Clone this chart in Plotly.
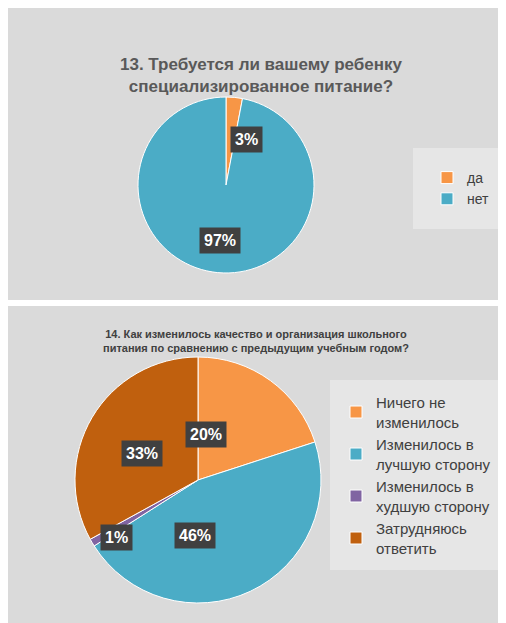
import plotly.graph_objects as go

# data
q13_labels = ['да', 'нет']
q13_values = [3, 97]
q14_labels = ['Ничего не<br>изменилось', 'Изменилось в<br>лучшую сторону',
              'Изменилось в<br>худшую сторону', 'Затрудняюсь<br>ответить']
q14_values = [20, 46, 1, 33]

q13_colors = ['#F79646', '#4BACC6']
q14_colors = ['#F79646', '#4BACC6', '#8064A2', '#C0600E']

W, H = 506, 623

fig = go.Figure()
fig.add_trace(go.Pie(
    labels=q13_labels, values=q13_values, sort=False, direction='clockwise', rotation=0,
    marker=dict(colors=q13_colors, line=dict(color='white', width=1)),
    textinfo='none', hoverinfo='label+percent',
    domain=dict(x=[130 / W, 306 / W], y=[1 - 265 / H, 1 - 89 / H]),
    legend='legend',
))
fig.add_trace(go.Pie(
    labels=q14_labels, values=q14_values, sort=False, direction='clockwise', rotation=0,
    marker=dict(colors=q14_colors, line=dict(color='white', width=1)),
    textinfo='none', hoverinfo='label+percent',
    domain=dict(x=[67 / W, 313 / W], y=[1 - 595 / H, 1 - 349 / H]),
    legend='legend2',
))

def px(x, y):
    return x / W, 1 - y / H

shapes = [
    dict(type='rect', xref='paper', yref='paper', x0=0, x1=1, y0=1 - 292 / H, y1=1,
         fillcolor='#DADADA', line=dict(width=0), layer='below'),
    dict(type='rect', xref='paper', yref='paper', x0=0, x1=1, y0=0, y1=1 - 298 / H,
         fillcolor='#DADADA', line=dict(width=0), layer='below'),
]

annotations = []
ax, ay = px(253, 45)
annotations.append(dict(text='<b>13. Требуется ли вашему ребенку<br>специализированное питание?</b>',
                        x=ax, y=ay, xref='paper', yref='paper', showarrow=False,
                        font=dict(size=17, color='#595959', family='Liberation Sans')))
ax, ay = px(248, 333)
annotations.append(dict(text='<b>14. Как изменилось качество и организация школьного<br>питания по сравнению с предыдущим учебным годом?</b>',
                        x=ax, y=ay, xref='paper', yref='paper', showarrow=False,
                        font=dict(size=11, color='#404040', family='Liberation Sans')))

label_pos13 = [(238, 118), (212, 232)]
label_pos14 = [(198, 440), (187, 541), (92, 543), (113, 459)]
for vals, pos in [(q13_values, label_pos13), (q14_values, label_pos14)]:
    for v, (x, y) in zip(vals, pos):
        ax, ay = px(x, y)
        annotations.append(dict(text=f'<b>{v}%</b>', x=ax, y=ay, xref='paper', yref='paper',
                                showarrow=False, bgcolor='#404040', borderpad=4,
                                font=dict(size=16, color='white', family='Liberation Sans')))

fig.update_layout(
    width=W, height=H, margin=dict(l=0, r=0, t=0, b=0),
    paper_bgcolor='white', plot_bgcolor='white',
    shapes=shapes, annotations=annotations,
    legend=dict(x=405 / W, y=1 - 140 / H, xanchor='left', yanchor='top',
                bgcolor='#E6E6E6', font=dict(size=14, color='#404040', family='Liberation Sans'),
                itemwidth=30, borderwidth=14, bordercolor='#E6E6E6'),
    legend2=dict(x=322 / W, y=1 - 372 / H, xanchor='left', yanchor='top',
                 bgcolor='#E6E6E6', font=dict(size=15, color='#404040', family='Liberation Sans'),
                 itemwidth=30, borderwidth=6, bordercolor='#E6E6E6'),
)

fig.write_html('out.html')
